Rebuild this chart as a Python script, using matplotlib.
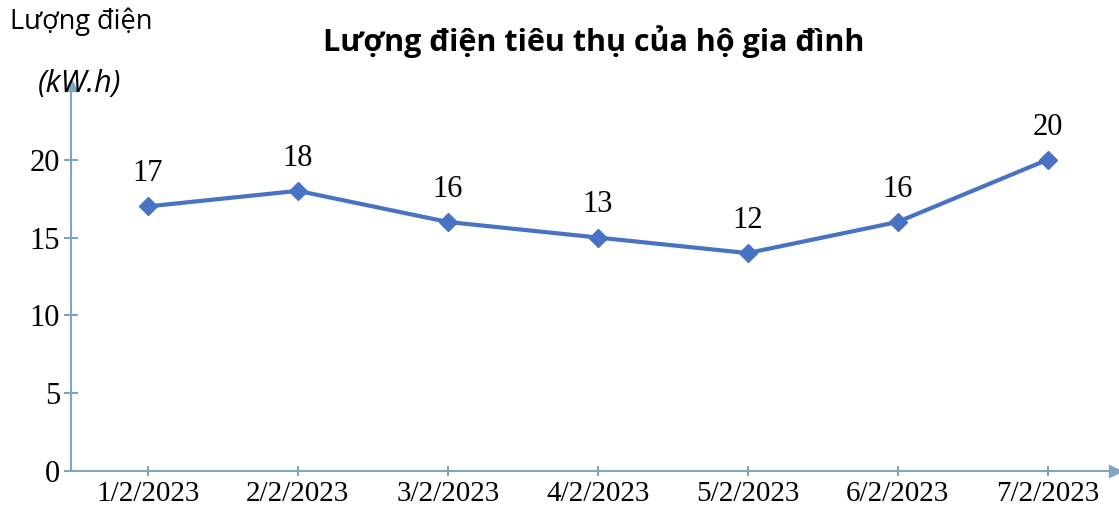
import matplotlib.pyplot as plt

# du lieu
ngay = ["1/2/2023", "2/2/2023", "3/2/2023", "4/2/2023", "5/2/2023", "6/2/2023", "7/2/2023"]
gia_tri = [17, 18, 16, 15, 14, 16, 20]
nhan = ["17", "18", "16", "13", "12", "16", "20"]
y_ticks = [0, 5, 10, 15, 20]

mau_duong = "#4a72c4"
mau_truc = "#7fa6c0"

fig = plt.figure(figsize=(11.19, 5.13), dpi=100)
ax = fig.add_axes([71 / 1119, 42 / 513, 1044 / 1119, 386 / 513])

x = list(range(len(ngay)))
ax.plot(x, gia_tri, color=mau_duong, lw=3, marker="D", ms=9, zorder=3)

for xi, yi, t in zip(x, gia_tri, nhan):
    ax.annotate(t, (xi, yi), xytext=(0, 13), textcoords="offset points",
                ha="center", va="bottom", fontsize=22, family="Liberation Serif")

ax.set_xlim(-0.513, 6.45)
ax.set_ylim(0, 24.8)
ax.set_xticks(x)
ax.set_xticklabels(ngay)
ax.set_yticks(y_ticks)

for s in ["top", "right"]:
    ax.spines[s].set_visible(False)
for s in ["left", "bottom"]:
    ax.spines[s].set_color(mau_truc)
    ax.spines[s].set_linewidth(1.5)

ax.tick_params(axis="y", direction="inout", length=10, color=mau_truc, width=1.5,
               labelsize=22, pad=3)
ax.tick_params(axis="x", direction="inout", length=7, color=mau_truc, width=1.5,
               labelsize=21, pad=4)
for lb in ax.get_xticklabels() + ax.get_yticklabels():
    lb.set_family("Liberation Serif")

# mui ten
ax.plot(1, 0, ">", color=mau_truc, ms=8, transform=ax.transAxes, clip_on=False)
ax.plot(0, 1, "^", color=mau_truc, ms=8, transform=ax.transAxes, clip_on=False)

fig.text(594 / 1119, 1 - 42 / 513, "Lượng điện tiêu thụ của hộ gia đình",
         ha="center", va="center", fontsize=22, fontweight="bold", family="Open Sans")
fig.text(10 / 1119, 1 - 22 / 513, "Lượng điện", ha="left", va="center",
         fontsize=19.5, family="Open Sans")
fig.text(38 / 1119, 1 - 84 / 513, "(kW.h)", ha="left", va="center",
         fontsize=22, style="italic", family="Open Sans")

fig.savefig("out.png", dpi=100)
